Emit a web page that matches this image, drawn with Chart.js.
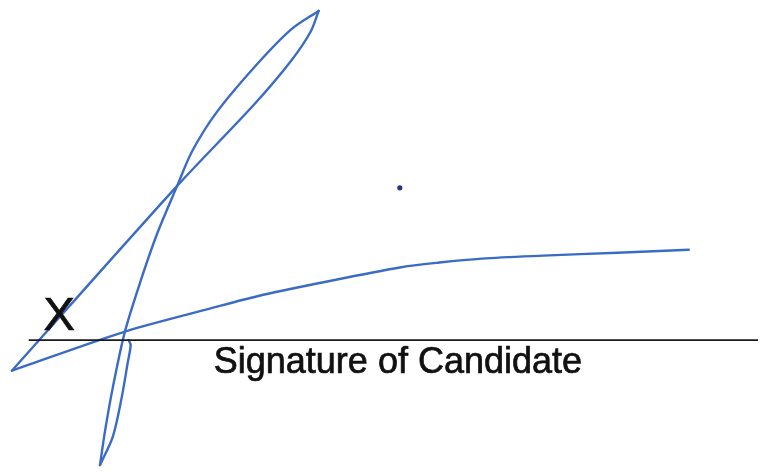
<!DOCTYPE html>
<html>
<head>
<meta charset="utf-8">
<script src="https://cdn.jsdelivr.net/npm/chart.js@4"></script>
<style>
  html, body { margin: 0; padding: 0; background: #ffffff; }
  #sig { display: block; }
</style>
</head>
<body>
<canvas id="sig" width="762" height="472"></canvas>
<script>
// Stroke samples (x right, y down, page pixels)
const sweepStroke = [
  {x: 692, y: 250}, {x: 620, y: 253}, {x: 545, y: 256}, {x: 483, y: 259},
  {x: 440, y: 263}, {x: 400, y: 268}, {x: 323, y: 283}, {x: 257, y: 297},
  {x: 200, y: 312}, {x: 120, y: 334}, {x: 8, y: 373}
];
const riseStroke = [
  {x: 8, y: 373}, {x: 175, y: 185}, {x: 253, y: 102}, {x: 290, y: 58},
  {x: 310, y: 28}, {x: 318, y: 7}
];
const dropStroke = [
  {x: 318, y: 7}, {x: 290, y: 26}, {x: 255, y: 62}, {x: 215, y: 110},
  {x: 190, y: 150}, {x: 175, y: 185}, {x: 155, y: 233}, {x: 138, y: 282},
  {x: 122, y: 334}, {x: 110, y: 390}, {x: 102, y: 435}, {x: 97, y: 469}
];
const returnStroke = [
  {x: 97, y: 469}, {x: 110, y: 440}, {x: 119, y: 400}, {x: 125, y: 365},
  {x: 128, y: 347}, {x: 126, y: 342}
];
const inkDot = [{x: 400, y: 187}];
const signLine = [{x: 25, y: 342}, {x: 762, y: 342}];

const labelTexts = ['X', 'Signature of Candidate'];
const labelAnchors = [{x: 40, y: 332}, {x: 212, y: 375}];
const labelSizes = [47, 36];

const INK = 'rgb(58, 108, 198)';

function strokeSet(points) {
  return {
    data: points,
    showLine: true,
    borderColor: INK,
    borderWidth: 2.4,
    pointRadius: 0,
    tension: 0.3,
    clip: false,
    borderCapStyle: 'round',
    borderJoinStyle: 'round'
  };
}

// draws the form text at page positions through the scales
const formText = {
  id: 'formText',
  afterDatasetsDraw(chart) {
    const {ctx, scales: {x, y}} = chart;
    ctx.save();
    ctx.fillStyle = '#111111';
    ctx.strokeStyle = '#111111';
    ctx.lineWidth = 0.7;
    ctx.textBaseline = 'alphabetic';
    labelTexts.forEach((txt, i) => {
      ctx.font = labelSizes[i] + 'px "Liberation Sans", Arial, sans-serif';
      const px = x.getPixelForValue(labelAnchors[i].x);
      const py = y.getPixelForValue(labelAnchors[i].y);
      ctx.fillText(txt, px, py);
      ctx.strokeText(txt, px, py);
    });
    ctx.restore();
  }
};

const paperBg = {
  id: 'paperBg',
  beforeDraw(chart) {
    const ctx = chart.ctx;
    ctx.save();
    ctx.fillStyle = '#ffffff';
    ctx.fillRect(0, 0, chart.width, chart.height);
    ctx.restore();
  }
};

new Chart(document.getElementById('sig').getContext('2d'), {
  type: 'scatter',
  data: {
    datasets: [
      {
        data: signLine,
        showLine: true,
        borderColor: '#1a1a1a',
        borderWidth: 1.8,
        pointRadius: 0,
        clip: false
      },
      strokeSet(sweepStroke),
      strokeSet(riseStroke),
      strokeSet(dropStroke),
      strokeSet(returnStroke),
      {
        data: inkDot,
        pointRadius: 2.6,
        pointBackgroundColor: 'rgb(40, 50, 140)',
        pointBorderWidth: 0,
        clip: false
      }
    ]
  },
  options: {
    responsive: false,
    animation: false,
    devicePixelRatio: 1,
    layout: { padding: 0 },
    plugins: {
      legend: { display: false },
      tooltip: { enabled: false }
    },
    scales: {
      x: { type: 'linear', min: 0, max: 762, display: false },
      y: { type: 'linear', min: 0, max: 472, reverse: true, display: false }
    }
  },
  plugins: [paperBg, formText]
});
</script>
</body>
</html>
